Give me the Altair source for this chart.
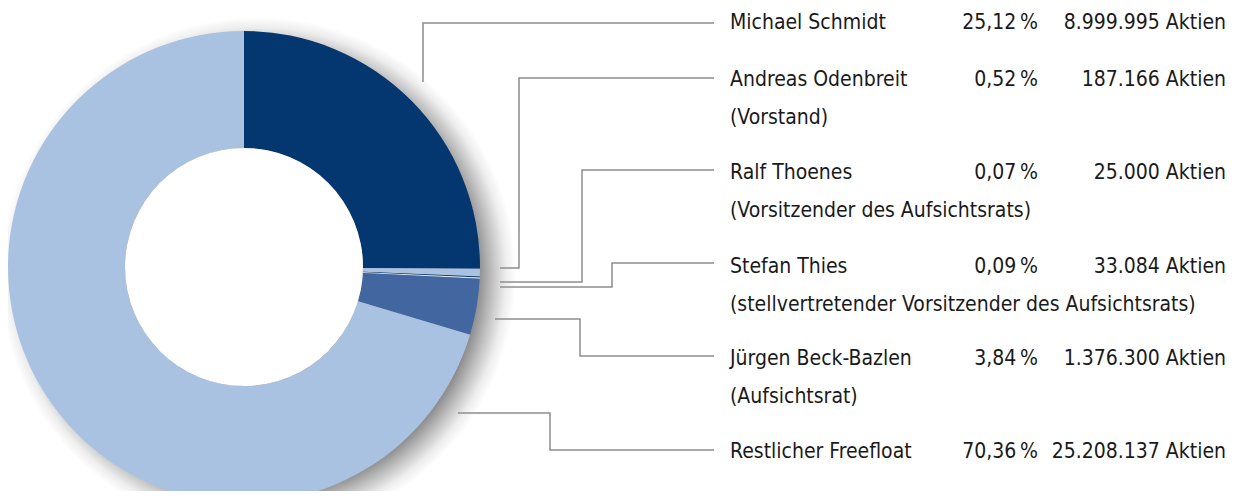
import altair as alt
import pandas as pd

# ---- data ----
holders = ["Michael Schmidt", "Andreas Odenbreit", "Ralf Thoenes", "Stefan Thies",
           "Jürgen Beck-Bazlen", "Restlicher Freefloat"]
roles = ["", "(Vorstand)", "(Vorsitzender des Aufsichtsrats)",
         "(stellvertretender Vorsitzender des Aufsichtsrats)", "(Aufsichtsrat)", ""]
percent = [25.12, 0.52, 0.07, 0.09, 3.84, 70.36]
percent_labels = ["25,12\u202f%", "0,52\u202f%", "0,07\u202f%", "0,09\u202f%", "3,84\u202f%", "70,36\u202f%"]
share_labels = ["8.999.995 Aktien", "187.166 Aktien", "25.000 Aktien", "33.084 Aktien",
                "1.376.300 Aktien", "25.208.137 Aktien"]
slice_colors = ["#04366f", "#aac2e1", "#04366f", "#dde7f3", "#4266a0", "#aac2e1"]

# ---- layout (page pixel coordinates) ----
row_y = [23, 80, 173, 267, 359, 452]
role_dy = 38
name_x, pct_x, shares_x = 730, 1038, 1226
leader_paths = [
    [(423, 82), (423, 23), (714, 23)],
    [(500, 268), (519, 268), (519, 78), (714, 78)],
    [(500, 282), (582, 282), (582, 170), (714, 170)],
    [(500, 287), (612, 287), (612, 263), (714, 263)],
    [(495, 319), (580, 319), (580, 356), (714, 356)],
    [(458, 413), (550, 413), (550, 450), (714, 450)],
]
cx, cy, r_out, r_in = 244, 267, 236, 119
M = 8
W, H = 1219, 483

xs = alt.Scale(domain=[M, M + W], range=[0, W])
ys = alt.Scale(domain=[M, M + H], range=[0, H])

pie = pd.DataFrame({"holder": holders, "pct": percent, "order": list(range(len(holders)))})
pie["key"] = [f"{i}" for i in range(len(holders))]

shadow = alt.Chart(pd.DataFrame({"a": [1]})).mark_arc(
    theta=0, theta2=6.2832, outerRadius=258, innerRadius=0,
    fill=alt.RadialGradient(
        gradient="radial", x1=0.5, y1=0.5, r1=0, x2=0.5, y2=0.5, r2=0.5,
        stops=[alt.GradientStop(offset=0, color="rgba(0,0,0,0.5)"),
               alt.GradientStop(offset=0.85, color="rgba(0,0,0,0.46)"),
               alt.GradientStop(offset=0.91, color="rgba(0,0,0,0.24)"),
               alt.GradientStop(offset=0.96, color="rgba(0,0,0,0.07)"),
               alt.GradientStop(offset=1, color="rgba(0,0,0,0)")]),
).encode(x=alt.value(cx + 14 - M), y=alt.value(cy + 8 - M))

donut = alt.Chart(pie).mark_arc(outerRadius=r_out, innerRadius=r_in).encode(
    theta=alt.Theta("pct:Q", stack=True),
    order=alt.Order("order:Q"),
    color=alt.Color("key:N", scale=alt.Scale(domain=pie["key"].tolist(), range=slice_colors),
                    legend=None),
    x=alt.value(cx - M), y=alt.value(cy - M),
)

hole = alt.Chart(pd.DataFrame({"a": [1]})).mark_arc(
    theta=0, theta2=6.2832, outerRadius=r_in, innerRadius=0, fill="white"
).encode(x=alt.value(cx - M), y=alt.value(cy - M))

lrows = []
for gi, path in enumerate(leader_paths):
    for pi, (px, py) in enumerate(path):
        lrows.append({"g": gi, "i": pi, "x": px, "y": py})
leaders = alt.Chart(pd.DataFrame(lrows)).mark_line(
    color="#8d8d8d", strokeWidth=1.5, interpolate="linear"
).encode(
    x=alt.X("x:Q", scale=xs, axis=None),
    y=alt.Y("y:Q", scale=ys, axis=None),
    detail="g:N", order="i:Q",
)

trows = []
for i in range(len(holders)):
    trows.append({"t": holders[i], "x": name_x, "y": row_y[i], "a": "left"})
    trows.append({"t": percent_labels[i], "x": pct_x, "y": row_y[i], "a": "right"})
    trows.append({"t": share_labels[i], "x": shares_x, "y": row_y[i], "a": "right"})
    if roles[i]:
        trows.append({"t": roles[i], "x": name_x, "y": row_y[i] + role_dy, "a": "left"})
tdf = pd.DataFrame(trows)

font = "DejaVu Sans Condensed, Roboto, sans-serif"
def text_layer(align):
    return alt.Chart(tdf[tdf["a"] == align]).mark_text(
        align=align, baseline="middle", font=font, fontSize=21, color="#1a1a1a"
    ).encode(
        x=alt.X("x:Q", scale=xs, axis=None),
        y=alt.Y("y:Q", scale=ys, axis=None),
        text="t:N",
    )

chart = alt.layer(shadow, donut, hole, leaders, text_layer("left"), text_layer("right")).properties(
    width=W, height=H, padding=0, autosize=alt.AutoSizeParams(type="none")
).resolve_scale(color="independent").configure_view(strokeWidth=0)

chart.save("out.html", embed_options={"renderer": "svg", "actions": False})
